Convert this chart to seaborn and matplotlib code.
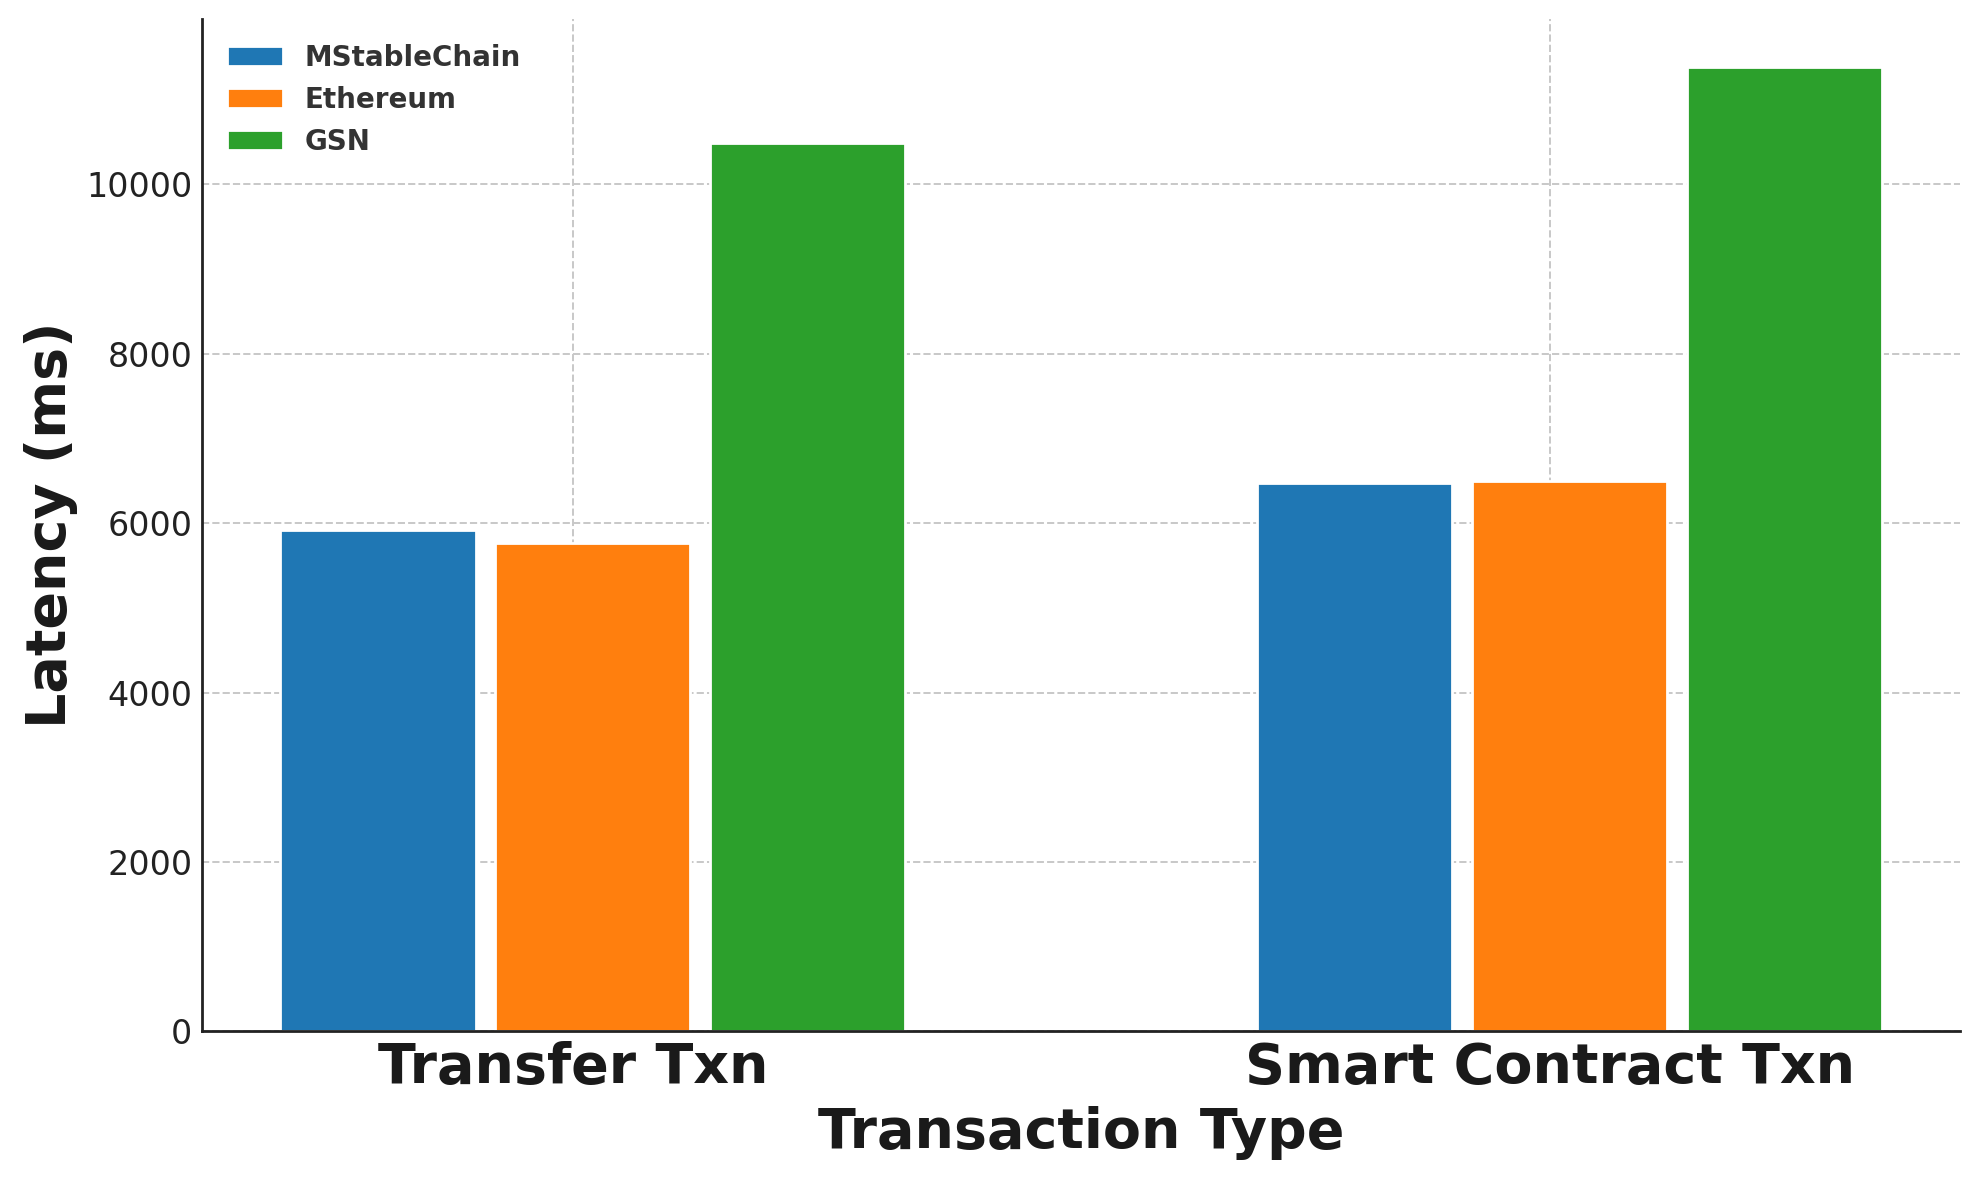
import numpy as np
import pandas as pd
import matplotlib
matplotlib.use('Agg')
import matplotlib.pyplot as plt
import seaborn as sns

# data
txn_types = ['Transfer Txn', 'Smart Contract Txn']
systems = ['MStableChain', 'Ethereum', 'GSN']
mstable_latency = [5920, 6475]
ethereum_latency = [5765, 6500]
gsn_latency = [10485, 11385]
colors = ['#1f77b4', '#ff7f0e', '#2ca02c']

df = pd.DataFrame({
    'Transaction Type': txn_types * 3,
    'System': np.repeat(systems, len(txn_types)),
    'Latency': mstable_latency + ethereum_latency + gsn_latency,
})

sns.set_style('white')
plt.rcParams['font.family'] = ['DejaVu Sans']

fig, ax = plt.subplots(figsize=(9.9, 5.9), dpi=200)
fig.subplots_adjust(left=0.102, right=0.990, top=0.984, bottom=0.126)

sns.barplot(data=df, x='Transaction Type', y='Latency', hue='System',
            hue_order=systems, order=txn_types, palette=colors,
            saturation=1, width=0.66, gap=0.09, ax=ax, zorder=2)

#grid and spines
ax.grid(True, linestyle='--', color='#c8c8c8', linewidth=0.7, zorder=0)
ax.set_axisbelow(True)
for side in ['top', 'right']:
    ax.spines[side].set_visible(False)
for side in ['left', 'bottom']:
    ax.spines[side].set_color('#222222')
    ax.spines[side].set_linewidth(1.0)

ax.set_xlim(-0.40, 1.40)
ax.set_ylim(0, max(gsn_latency) * 1.05)
ax.set_xticks(np.arange(len(txn_types)) - 0.02, txn_types)
ax.tick_params(axis='both', direction='in', length=3.5, width=0.8, color='#222222')
ax.tick_params(axis='y', labelsize=12, labelcolor='#222222')
ax.tick_params(axis='x', labelsize=20, labelcolor='#1a1a1a')
for lbl in ax.get_xticklabels():
    lbl.set_fontweight('bold')

ax.set_xlabel('Transaction Type', fontsize=20, fontweight='bold', color='#1a1a1a', labelpad=4)
ax.set_ylabel('Latency (ms)', fontsize=20, fontweight='bold', color='#1a1a1a', labelpad=3)

leg = ax.legend(loc='upper left', frameon=False, prop={'size': 10, 'weight': 'bold'},
                labelcolor='#333333')

fig.savefig('out.png', dpi=200)
